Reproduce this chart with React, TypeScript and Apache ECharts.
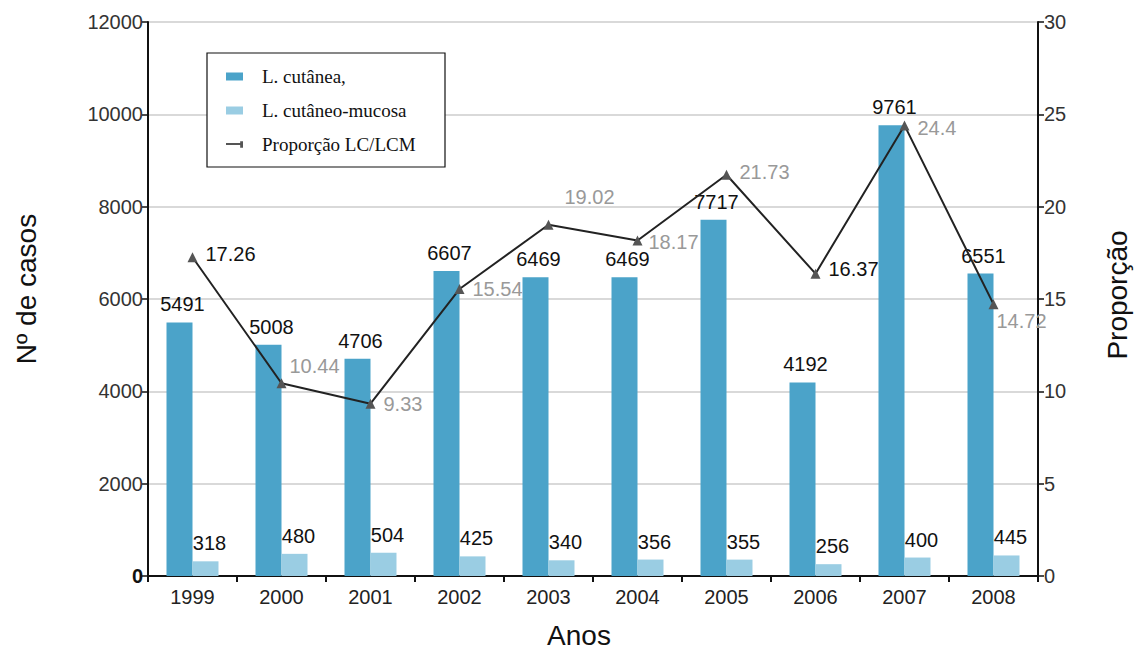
import React, { useEffect, useRef } from "react";
import * as echarts from "echarts";

const categories = ["1999", "2000", "2001", "2002", "2003", "2004", "2005", "2006", "2007", "2008"];
const cutanea = [5491, 5008, 4706, 6607, 6469, 6469, 7717, 4192, 9761, 6551];
const mucosa = [318, 480, 504, 425, 340, 356, 355, 256, 400, 445];
const proporcao = [17.26, 10.44, 9.33, 15.54, 19.02, 18.17, 21.73, 16.37, 24.4, 14.72];

// label placement tweaks for the ratio series (style, not data)
const ratioLabelOffsets: [number, number][] = [
  [2, -3], [-3, -17], [2, 0], [2, 0], [5, -28], [0, 2], [2, -3], [2, -5], [2, 3], [-8, 17],
];
const ratioLabelColors = ["#111", "#999", "#999", "#999", "#999", "#999", "#999", "#111", "#999", "#999"];

const FONT = "Liberation Sans";

export default function App() {
  const ref = useRef<HTMLDivElement>(null);
  useEffect(() => {
    if (!ref.current) return;
    const chart = echarts.init(ref.current, undefined, { renderer: "svg" });
    const option: any = {
      animation: false,
      backgroundColor: "#fff",
      textStyle: { fontFamily: FONT },
      grid: { left: 148, right: 98, top: 22, bottom: 74 },
      legend: {
        orient: "vertical",
        left: 207,
        top: 53,
        padding: [14, 10, 10, 19],
        itemGap: 15,
        itemWidth: 17,
        itemHeight: 8,
        z: 10,
        textStyle: { fontFamily: "Liberation Serif", fontSize: 19, color: "#111", padding: [0, 0, 0, 14] },
        data: [
          { name: "L. cutânea,", icon: "rect" },
          { name: "L. cutâneo-mucosa", icon: "rect" },
          { name: "Proporção LC/LCM", icon: "path://M0,4h16v2h-16z M15,2h3v7h-3z" },
        ],
      },
      graphic: [
        {
          type: "rect",
          z: 3,
          shape: { x: 207, y: 53, width: 238, height: 114 },
          style: { fill: "#fff", stroke: "#111", lineWidth: 1.2 },
        },
        {
          type: "text",
          x: 26,
          y: 289,
          rotation: Math.PI / 2,
          style: {
            text: "Nº de casos",
            fontFamily: FONT,
            fontSize: 28,
            fill: "#111",
            align: "center",
            verticalAlign: "middle",
          },
        },
        {
          type: "text",
          x: 1117,
          y: 295,
          rotation: Math.PI / 2,
          style: {
            text: "Proporção",
            fontFamily: FONT,
            fontSize: 28,
            fill: "#111",
            align: "center",
            verticalAlign: "middle",
          },
        },
        {
          type: "text",
          x: 579,
          y: 635,
          style: {
            text: "Anos",
            fontFamily: FONT,
            fontSize: 28,
            fill: "#111",
            align: "center",
            verticalAlign: "middle",
          },
        },
      ],
      xAxis: {
        type: "category",
        data: categories,
        axisLine: { lineStyle: { color: "#111", width: 2 } },
        axisTick: { show: true, length: 6, lineStyle: { color: "#111", width: 2 } },
        axisLabel: { fontSize: 20, color: "#222", margin: 11, fontFamily: FONT },
      },
      yAxis: [
        {
          type: "value",
          min: 0,
          max: 12000,
          interval: 2000,
          axisLine: { show: true, lineStyle: { color: "#111", width: 2 } },
          axisTick: { show: true, length: 6, lineStyle: { color: "#111", width: 1.5 } },
          splitLine: { show: true, lineStyle: { color: "#ccc", width: 1.5 } },
          axisLabel: {
            fontSize: 20,
            color: "#333",
            margin: 5,
            fontFamily: FONT,
            formatter: (v: number) => (v === 0 ? "{b|0}" : String(v)),
            rich: { b: { fontWeight: "bold", fontSize: 20, color: "#111", fontFamily: FONT } },
          },
        },
        {
          type: "value",
          min: 0,
          max: 30,
          interval: 5,
          position: "right",
          axisLine: { show: true, lineStyle: { color: "#111", width: 2 } },
          axisTick: { show: true, length: 6, lineStyle: { color: "#111", width: 1.5 } },
          splitLine: { show: false },
          axisLabel: { fontSize: 20, color: "#333", margin: 6, fontFamily: FONT },
        },
      ],
      series: [
        {
          name: "L. cutânea,",
          type: "bar",
          data: cutanea,
          barWidth: 26,
          barGap: "0%",
          itemStyle: { color: "#4BA3C9" },
          label: {
            show: true,
            position: "top",
            distance: 8,
            offset: [3, 0],
            fontSize: 20,
            color: "#111",
            fontFamily: FONT,
          },
        },
        {
          name: "L. cutâneo-mucosa",
          type: "bar",
          data: mucosa,
          barWidth: 26,
          barGap: "0%",
          itemStyle: { color: "#9ACDE3" },
          label: {
            show: true,
            position: "top",
            distance: 8,
            offset: [4, 0],
            fontSize: 20,
            color: "#111",
            fontFamily: FONT,
          },
        },
        {
          name: "Proporção LC/LCM",
          type: "line",
          yAxisIndex: 1,
          z: 5,
          data: proporcao.map((v, i) => ({
            value: v,
            label: { offset: ratioLabelOffsets[i], color: ratioLabelColors[i] },
          })),
          symbol: "triangle",
          symbolSize: 10,
          lineStyle: { color: "#222", width: 2 },
          itemStyle: { color: "#555" },
          label: {
            show: true,
            position: "right",
            distance: 6,
            fontSize: 20,
            fontFamily: FONT,
          },
        },
      ],
    };
    chart.setOption(option);
    return () => chart.dispose();
  }, []);
  return (
    <div
      ref={ref}
      style={{ position: "absolute", left: 0, top: 0, width: 1136, height: 650 }}
    />
  );
}
